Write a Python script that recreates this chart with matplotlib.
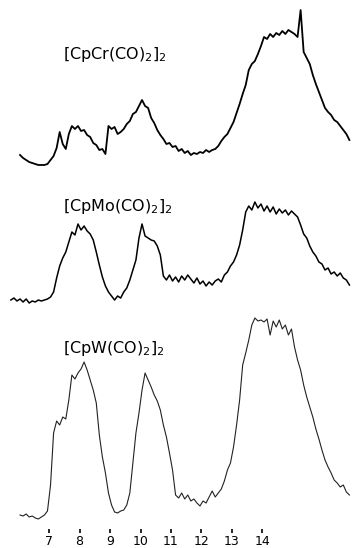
import numpy as np
import matplotlib
matplotlib.use("Agg")
import matplotlib.pyplot as plt

# x axis: wavenumber-like units, traces sampled every 0.1
step = 0.1

cr_start = 6.05
cr_vals = [15, 12, 10, 8, 7, 6, 5, 5, 5, 6,
           10, 14, 22, 38, 26, 21, 36, 44, 41, 44,
           39, 40, 35, 33, 27, 25, 20, 21, 16, 44,
           41, 43, 36, 38, 41, 46, 49, 56, 58, 64,
           70, 64, 62, 52, 47, 40, 35, 31, 26, 27,
           23, 24, 19, 21, 17, 19, 15, 17, 16, 18,
           17, 20, 18, 20, 21, 24, 29, 33, 36, 42,
           48, 57, 66, 76, 85, 100, 106, 109, 116, 124,
           133, 131, 136, 133, 137, 135, 139, 136, 140, 138,
           136, 133, 160, 118, 112, 106, 95, 86, 78, 70,
           62, 58, 55, 50, 48, 44, 40, 36, 30]

mo_start = 5.75
mo_vals = [10, 12, 9, 11, 8, 11, 7, 9, 8, 10,
           9, 10, 11, 13, 18, 32, 44, 52, 58, 68,
           78, 75, 86, 80, 84, 79, 76, 70, 58, 45,
           33, 24, 18, 14, 10, 14, 12, 18, 22, 30,
           40, 50, 72, 86, 74, 72, 70, 69, 64, 55,
           34, 30, 35, 29, 33, 28, 34, 30, 35, 31,
           27, 32, 26, 29, 24, 28, 25, 29, 31, 28,
           35, 38, 44, 48, 55, 65, 80, 98, 104, 100,
           108, 102, 106, 99, 104, 98, 103, 96, 101, 97,
           100, 95, 99, 96, 93, 85, 76, 72, 64, 58,
           54, 48, 46, 40, 42, 36, 38, 34, 37, 32,
           30, 25]

w_start = 6.05
w_vals = [10, 9, 11, 8, 9, 7, 6, 8, 10, 14,
          40, 92, 104, 100, 108, 106, 125, 150, 146, 152,
          156, 163, 155, 145, 135, 122, 90, 68, 52, 32,
          20, 13, 12, 14, 15, 20, 32, 62, 92, 112,
          135, 152, 145, 138, 130, 124, 115, 100, 88, 72,
          55, 30, 27, 32, 26, 30, 24, 26, 22, 19,
          24, 22, 28, 34, 28, 32, 36, 44, 55, 62,
          78, 100, 125, 160, 172, 185, 200, 207, 204, 205,
          203, 206, 190, 204, 198, 205, 196, 200, 190, 196,
          178, 165, 155, 140, 128, 118, 108, 96, 86, 75,
          65, 58, 52, 45, 42, 38, 40, 33, 30]

tick_pos = [7, 8, 9, 10, 11, 12, 13, 14]
tick_labels = ["7", "8", "9", "10", "11", "12", "13", "14"]

names = [r"[CpCr(CO)$_2$]$_2$", r"[CpMo(CO)$_2$]$_2$", r"[CpW(CO)$_2$]$_2$"]

# vertical baselines of the three stacked traces
offsets = [378, 238, 23]

fig = plt.figure(figsize=(3.56, 5.48), dpi=100)
ax = fig.add_axes([0, 0, 1, 1])
ax.set_xlim(5.393, 17.066)
ax.set_ylim(0, 548)

traces = [(cr_start, cr_vals, 1.3, "black"),
          (mo_start, mo_vals, 1.1, "black"),
          (w_start, w_vals, 0.8, "#222222")]
for (start, vals, lw, col), off in zip(traces, offsets):
    x = start + step * np.arange(len(vals))
    ax.plot(x, np.array(vals) + off, color=col, lw=lw)

# compound labels
label_y = [493, 341, 200]
for name, ly in zip(names, label_y):
    ax.text(7.45, ly, name, fontsize=11.5, color="black",
            family="DejaVu Sans", ha="left", va="center")

for s in ax.spines.values():
    s.set_visible(False)
ax.spines["bottom"].set_position(("data", 19))
ax.set_yticks([])
ax.set_xticks(tick_pos)
ax.set_xticklabels(tick_labels, fontsize=9)
ax.tick_params(axis="x", direction="out", length=3, width=1.2, pad=1)

fig.savefig("out.png", dpi=100, facecolor="white")
